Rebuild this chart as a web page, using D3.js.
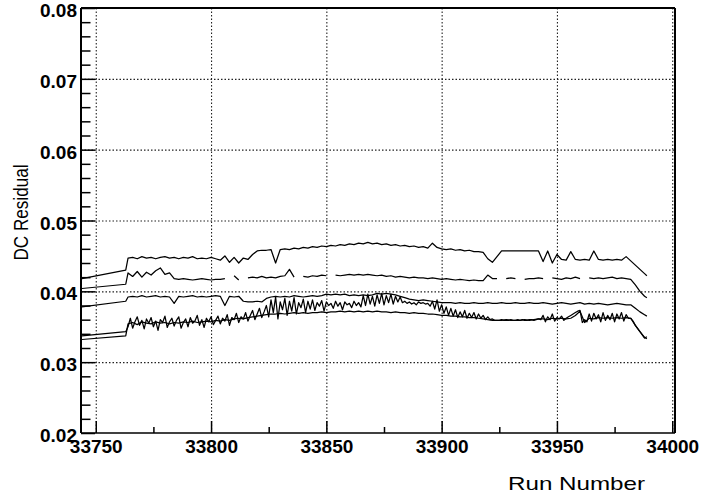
<!DOCTYPE html>
<html>
<head>
<meta charset="utf-8">
<script src="https://cdn.jsdelivr.net/npm/d3@7"></script>
<style>
  html, body { margin: 0; padding: 0; background: #fff; }
  svg { display: block; }
</style>
</head>
<body>
<svg id="chart" width="702" height="499"></svg>
<script>
// ---------------- DATA ----------------
const runs = [
  33744, 33763,
  33764,33766,33768,33770,33772,33774,33776,33778,33780,33782,
  33784,33786,33788,33790,33792,33794,33796,33798,33800,33802,
  33804,33806,33808,33810,33812,33814,33816,33818,33820,33822,
  33824,33826,33828,33830,33832,33834,33836,33838,33840,33842,
  33844,33846,33848,33850,33852,33854,33856,33858,33860,33862,
  33864,33866,33868,33870,33872,33874,33876,33878,33880,33882,
  33884,33886,33888,33890,33892,33894,33896,33898,33900,33902,
  33904,33906,33908,33910,33912,33914,33916,33918,33920,33922,
  33924,33926,33928,33930,33932,33934,33936,33938,33940,33942,
  33944,33946,33948,33950,33952,33954,33956,33958,33960,33962,
  33964,33966,33968,33970,33972,33974,33976,33978,33980,33982,
  33984,33986,33988,
  33989
];

const seriesA = [
  0.0418, 0.0430,
  0.0447,0.0448,0.0446,0.0449,0.0447,0.0448,0.0446,0.0448,0.0449,0.0447,
  0.0448,0.0446,0.0448,0.0447,0.0449,0.0446,0.0447,0.0446,0.0448,0.0446,
  0.0444,0.0450,0.0441,0.0448,0.0440,0.0447,0.0445,0.0452,0.0457,0.0458,
  0.0458,0.0459,0.0440,0.0459,0.0460,0.0459,0.0461,0.0460,0.0462,0.0461,
  0.0463,0.0462,0.0464,0.0463,0.0465,0.0464,0.0466,0.0465,0.0467,0.0466,
  0.0468,0.0467,0.0469,0.0467,0.0468,0.0466,0.0467,0.0465,0.0466,0.0464,
  0.0465,0.0463,0.0464,0.0462,0.0463,0.0461,0.0468,0.0462,0.0460,0.0459,
  0.0460,0.0458,0.0459,0.0457,0.0458,0.0456,0.0456,0.0455,0.0446,0.0441,
  0.0449,0.0457,0.0457,0.0457,0.0457,0.0457,0.0457,0.0457,0.0457,0.0457,
  0.0442,0.0457,0.0440,0.0452,0.0445,0.0444,0.0456,0.0445,0.0444,0.0445,
  0.0444,0.0457,0.0445,0.0444,0.0445,0.0444,0.0445,0.0444,0.0449,0.0443,
  0.0437,0.0431,0.0425,
  0.0422
];

const seriesB = [
  0.0404, 0.0410,
  0.0426,0.0421,0.0428,0.0420,0.0427,0.0423,0.0429,0.0433,0.0424,0.0426,
  0.0418,0.0417,0.0418,0.0417,0.0416,0.0417,0.0418,0.0417,0.0416,0.0417,
  0.0417,0.0418,null,0.0422,0.0416,null,0.0419,0.0420,0.0419,0.0421,
  0.0419,0.0420,0.0419,0.0421,0.0422,0.0431,0.0420,null,0.0421,0.0420,
  0.0422,0.0421,0.0423,0.0422,null,0.0423,0.0422,0.0423,0.0424,0.0423,
  0.0424,0.0423,0.0424,0.0423,0.0422,0.0423,0.0421,0.0422,0.0420,0.0421,
  0.0420,0.0419,0.0420,0.0419,0.0419,0.0418,0.0419,0.0418,0.0417,0.0418,
  0.0417,0.0416,0.0417,0.0416,0.0415,0.0416,0.0415,0.0415,0.0423,0.0418,
  0.0418,null,0.0418,0.0419,0.0418,null,0.0417,0.0418,0.0418,0.0419,
  0.0418,null,0.0419,0.0418,0.0417,0.0419,0.0418,0.0420,0.0418,null,
  0.0419,0.0418,0.0419,0.0418,0.0419,0.0420,0.0418,0.0419,0.0418,0.0417,
  0.0409,0.0400,0.0393,
  0.0391
];

const seriesC = [
  0.0378, 0.0386,
  0.0392,0.0393,0.0392,0.0394,0.0392,0.0393,0.0394,0.0392,0.0393,0.0392,
  0.0383,0.0393,0.0392,0.0393,0.0394,0.0392,0.0393,0.0392,0.0393,0.0394,
  0.0393,0.0380,0.0393,0.0392,0.0393,0.0386,0.0385,0.0385,0.0386,0.0385,
  0.0390,0.0392,0.0393,0.0392,0.0393,0.0392,0.0394,0.0393,0.0392,0.0393,
  0.0394,0.0393,0.0394,0.0396,0.0395,0.0396,0.0395,0.0396,0.0394,0.0395,
  0.0394,0.0395,0.0394,0.0395,0.0397,0.0396,0.0397,0.0396,0.0395,0.0393,
  0.0391,0.0389,0.0388,0.0387,0.0388,0.0387,0.0386,0.0385,0.0384,0.0384,
  0.0384,0.0383,0.0384,0.0383,0.0383,0.0384,0.0383,0.0383,0.0384,0.0383,
  0.0383,0.0384,0.0383,0.0383,0.0384,0.0383,0.0383,0.0384,0.0383,0.0383,
  0.0384,0.0383,0.0382,0.0383,0.0384,0.0383,0.0382,0.0383,0.0384,0.0382,
  0.0383,0.0382,0.0383,0.0382,0.0381,0.0382,0.0383,0.0382,0.0381,0.0381,
  0.0376,0.0371,0.0367,
  0.0365
];

const seriesD2 = [
  0.0332, 0.0337,
  0.0354,0.0356,0.0353,0.0357,0.0355,0.0354,0.0357,0.0355,0.0356,0.0354,
  0.0356,0.0355,0.0357,0.0356,0.0358,0.0356,0.0357,0.0358,0.0357,0.0359,
  0.0358,0.0360,0.0359,0.0361,0.0362,0.0361,0.0363,0.0364,0.0365,0.0366,
  0.0367,0.0368,0.0368,0.0369,0.0368,0.0369,0.0370,0.0369,0.0370,0.0369,
  0.0370,0.0370,0.0371,0.0370,0.0371,0.0371,0.0372,0.0371,0.0372,0.0371,
  0.0372,0.0371,0.0372,0.0371,0.0372,0.0371,0.0371,0.0370,0.0371,0.0370,
  0.0370,0.0369,0.0370,0.0369,0.0369,0.0368,0.0368,0.0367,0.0366,0.0366,
  0.0365,0.0365,0.0364,0.0364,0.0363,0.0363,0.0362,0.0361,0.0360,0.0359,
  0.0359,0.0359,0.0360,0.0359,0.0359,0.0359,0.0360,0.0359,0.0360,0.0361,
  0.0361,0.0360,0.0362,0.0361,0.0362,0.0361,0.0362,0.0366,0.0372,0.0356,
  0.0362,0.0361,0.0363,0.0362,0.0363,0.0362,0.0363,0.0362,0.0363,0.0362,
  0.0352,0.0343,0.0335,
  0.0333
];

// the noisiest series is sampled at every run
const runsD1 = [
  33744, 33763,
  33764,33765,33766,33767,33768,33769,33770,33771,33772,33773,
  33774,33775,33776,33777,33778,33779,33780,33781,33782,33783,
  33784,33785,33786,33787,33788,33789,33790,33791,33792,33793,
  33794,33795,33796,33797,33798,33799,33800,33801,33802,33803,
  33804,33805,33806,33807,33808,33809,33810,33811,33812,33813,
  33814,33815,33816,33817,33818,33819,33820,33821,33822,33823,
  33824,33825,33826,33827,33828,33829,33830,33831,33832,33833,
  33834,33835,33836,33837,33838,33839,33840,33841,33842,33843,
  33844,33845,33846,33847,33848,33849,33850,33851,33852,33853,
  33854,33855,33856,33857,33858,33859,33860,33861,33862,33863,
  33864,33865,33866,33867,33868,33869,33870,33871,33872,33873,
  33874,33875,33876,33877,33878,33879,33880,33881,33882,33883,
  33884,33885,33886,33887,33888,33889,33890,33891,33892,33893,
  33894,33895,33896,33897,33898,33899,33900,33901,33902,33903,
  33904,33905,33906,33907,33908,33909,33910,33911,33912,33913,
  33914,33915,33916,33917,33918,33919,33920,33921,33922,33923,
  33924,33925,33926,33927,33928,33929,33930,33931,33932,33933,
  33934,33935,33936,33937,33938,33939,33940,33941,33942,33943,
  33944,33945,33946,33947,33948,33949,33950,33951,33952,33953,
  33954,33955,33956,33957,33958,33959,33960,33961,33962,33963,
  33964,33965,33966,33967,33968,33969,33970,33971,33972,33973,
  33974,33975,33976,33977,33978,33979,33980,33981,33982,33983,
  33984,33986,33988,
  33989
];

const seriesD1 = [
  0.0337, 0.0343,
  0.0350,0.0362,0.0348,0.0357,0.0364,0.0352,0.0359,0.0347,0.0361,0.0355,
  0.0363,0.0350,0.0358,0.0345,0.0360,0.0356,0.0365,0.0349,0.0357,0.0362,
  0.0351,0.0359,0.0364,0.0348,0.0356,0.0361,0.0350,0.0363,0.0355,0.0358,
  0.0366,0.0352,0.0360,0.0349,0.0362,0.0357,0.0364,0.0353,0.0359,0.0365,
  0.0354,0.0362,0.0358,0.0367,0.0352,0.0363,0.0360,0.0369,0.0356,0.0364,
  0.0361,0.0370,0.0358,0.0366,0.0373,0.0360,0.0368,0.0376,0.0363,0.0371,
  0.0380,0.0364,0.0388,0.0370,0.0392,0.0361,0.0385,0.0374,0.0390,0.0366,
  0.0386,0.0372,0.0391,0.0368,0.0384,0.0377,0.0389,0.0370,0.0386,0.0375,
  0.0388,0.0373,0.0384,0.0379,0.0387,0.0372,0.0385,0.0380,0.0383,0.0376,
  0.0386,0.0379,0.0384,0.0374,0.0385,0.0381,0.0383,0.0377,0.0386,0.0380,
  0.0384,0.0378,0.0394,0.0380,0.0396,0.0382,0.0393,0.0379,0.0395,0.0383,
  0.0397,0.0381,0.0394,0.0384,0.0396,0.0382,0.0393,0.0385,0.0392,0.0384,
  0.0386,0.0383,0.0385,0.0382,0.0384,0.0381,0.0385,0.0383,0.0384,0.0382,
  0.0383,0.0379,0.0386,0.0375,0.0388,0.0372,0.0381,0.0369,0.0378,0.0366,
  0.0376,0.0365,0.0374,0.0363,0.0371,0.0364,0.0373,0.0362,0.0369,0.0363,
  0.0370,0.0361,0.0368,0.0362,0.0366,0.0360,0.0364,0.0360,0.0361,0.0359,
  0.0359,0.0359,0.0360,0.0359,0.0359,0.0359,0.0360,0.0359,0.0359,0.0360,
  0.0359,0.0360,0.0359,0.0359,0.0360,0.0360,0.0359,0.0360,0.0361,0.0360,
  0.0366,0.0357,0.0364,0.0360,0.0368,0.0358,0.0363,0.0361,0.0365,0.0359,
  0.0362,0.0364,0.0366,0.0368,0.0370,0.0372,0.0373,0.0356,0.0360,0.0357,
  0.0368,0.0358,0.0369,0.0361,0.0367,0.0357,0.0370,0.0359,0.0366,0.0360,
  0.0369,0.0357,0.0368,0.0361,0.0370,0.0358,0.0367,0.0362,0.0362,0.0358,
  0.0352,0.0343,0.0334,
  0.0336
];

const xMajorTicks = [33750, 33800, 33850, 33900, 33950, 34000];
const xMinorTicks = [33775, 33825, 33875, 33925, 33975];
const yMajorTicks = [0.02, 0.03, 0.04, 0.05, 0.06, 0.07, 0.08];
const yMinorTicks = [0.022,0.024,0.026,0.028, 0.032,0.034,0.036,0.038,
                     0.042,0.044,0.046,0.048, 0.052,0.054,0.056,0.058,
                     0.062,0.064,0.066,0.068, 0.072,0.074,0.076,0.078];
const xTitle = "Run Number";
const yTitle = "DC Residual";

// ---------------- CHART ----------------
const svg = d3.select("#chart");
svg.append("rect").attr("width", 702).attr("height", 499).attr("fill", "#fff");

const L = 81, R = 675, T = 8, B = 433;
const x = d3.scaleLinear().domain([33743.6, 34001.2]).range([L, R]);
const y = d3.scaleLinear().domain([0.02, 0.08]).range([B, T]);

const numFont = "'Liberation Sans', Arial, Helvetica, sans-serif";

// grid lines
const gx = svg.append("g").attr("transform", `translate(0,${B})`)
  .call(d3.axisBottom(x).tickValues(xMajorTicks).tickSize(-(B - T)).tickFormat(""));
gx.select(".domain").remove();
gx.selectAll("line").attr("stroke", "#222").attr("stroke-width", 1.1).attr("stroke-dasharray", "1.5,2");

const gy = svg.append("g").attr("transform", `translate(${L},0)`)
  .call(d3.axisLeft(y).tickValues(yMajorTicks.filter(v => v > 0.021 && v < 0.079)).tickSize(-(R - L)).tickFormat(""));
gy.select(".domain").remove();
gy.selectAll("line").attr("stroke", "#222").attr("stroke-width", 1.1).attr("stroke-dasharray", "1.5,2");

// data lines
const line = d3.line()
  .defined(d => d[1] !== null)
  .x(d => x(d[0]))
  .y(d => y(d[1]));

const allSeries = [
  { r: runs, v: seriesA },
  { r: runs, v: seriesB },
  { r: runs, v: seriesC },
  { r: runs, v: seriesD2 },
  { r: runsD1, v: seriesD1 }
];
svg.append("g").selectAll("path")
  .data(allSeries)
  .join("path")
  .attr("d", s => line(s.r.map((r, i) => [r, s.v[i]])))
  .attr("fill", "none")
  .attr("stroke", "#000")
  .attr("stroke-width", 1.25)
  .attr("stroke-linejoin", "round");

// frame
svg.append("line").attr("x1", L).attr("x2", R).attr("y1", T).attr("y2", T).attr("stroke", "#000").attr("stroke-width", 2);
svg.append("line").attr("x1", R).attr("x2", R).attr("y1", T).attr("y2", B).attr("stroke", "#000").attr("stroke-width", 2);

// bottom axis: major ticks + labels
const ax = svg.append("g").attr("transform", `translate(0,${B})`)
  .call(d3.axisBottom(x).tickValues(xMajorTicks).tickSize(-12).tickPadding(0).tickFormat(d3.format("d")));
ax.select(".domain").remove();
ax.selectAll("line").attr("stroke", "#000").attr("stroke-width", 1.5);
ax.selectAll("text")
  .attr("y", 20).attr("dy", null)
  .attr("fill", "#000")
  .style("font-family", numFont).style("font-weight", "bold").style("font-size", "19px");

const axm = svg.append("g").attr("transform", `translate(0,${B})`)
  .call(d3.axisBottom(x).tickValues(xMinorTicks).tickSize(-6).tickFormat(""));
axm.select(".domain").remove();
axm.selectAll("line").attr("stroke", "#000").attr("stroke-width", 1.5);

// left axis: major ticks + labels
const ay = svg.append("g").attr("transform", `translate(${L},0)`)
  .call(d3.axisLeft(y).tickValues(yMajorTicks).tickSize(-14).tickPadding(4).tickFormat(d3.format(".2f")));
ay.select(".domain").remove();
ay.selectAll("line").attr("stroke", "#000").attr("stroke-width", 1.5);
ay.selectAll("text")
  .attr("dy", null).attr("y", 8.5)
  .attr("fill", "#000")
  .style("font-family", numFont).style("font-weight", "bold").style("font-size", "19px");

const aym = svg.append("g").attr("transform", `translate(${L},0)`)
  .call(d3.axisLeft(y).tickValues(yMinorTicks).tickSize(-9.5).tickFormat(""));
aym.select(".domain").remove();
aym.selectAll("line").attr("stroke", "#000").attr("stroke-width", 1.5);

// axis lines
svg.append("line").attr("x1", L).attr("x2", L).attr("y1", T).attr("y2", B).attr("stroke", "#000").attr("stroke-width", 2);
svg.append("line").attr("x1", L).attr("x2", R).attr("y1", B).attr("y2", B).attr("stroke", "#000").attr("stroke-width", 1.6);

// titles
svg.append("text")
  .attr("x", 645).attr("y", 490)
  .attr("text-anchor", "end")
  .attr("textLength", 137).attr("lengthAdjust", "spacingAndGlyphs")
  .style("font-family", numFont).style("font-size", "18.5px").attr("fill", "#000")
  .text(xTitle);

svg.append("text")
  .attr("transform", "translate(28,212.5) rotate(-90)")
  .attr("text-anchor", "middle")
  .attr("textLength", 96).attr("lengthAdjust", "spacingAndGlyphs")
  .style("font-family", numFont).style("font-size", "20px").attr("fill", "#000")
  .text(yTitle);
</script>
</body>
</html>
